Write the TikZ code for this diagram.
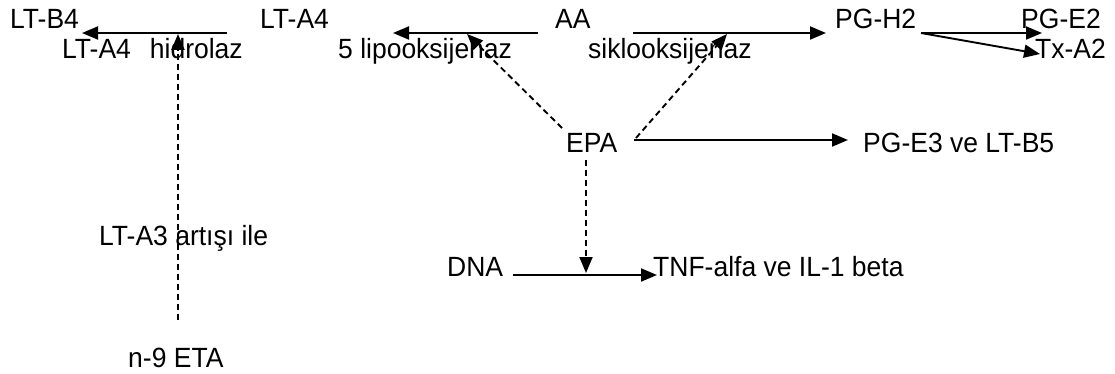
\documentclass[tikz,border=0pt]{standalone}
\usepackage{fontspec}
\setmainfont{Liberation Sans}
\usetikzlibrary{arrows.meta}
\newcommand{\tall}[1]{\scalebox{1}[1.05]{#1}}
\begin{document}
\begin{tikzpicture}[x=1pt,y=-1pt,
  lbl/.style={anchor=base west,inner sep=0pt,font=\fontsize{26.5}{30}\selectfont},
  arr/.style={line width=1.9pt,-{Triangle[length=16pt,width=13pt]}},
  darr/.style={arr,dash pattern=on 6pt off 4pt}]
\useasboundingbox (0,0) rectangle (1115,374);
% labels
\node[lbl] (ltb4) at (10,29) {\tall{LT-B4}};
\node[lbl] (lta4) at (260,29) {\tall{LT-A4}};
\node[lbl] (aa)   at (555,29) {\tall{AA}};
\node[lbl] (pgh2) at (835,29) {\tall{PG-H2}};
\node[lbl] (pge2) at (1021,29) {\tall{PG-E2}};
\node[lbl] (txa2) at (1035,59) {\tall{Tx-A2}};
\node[lbl] (hyd)  at (62,59) {\tall{LT-A4\hspace{19pt}hidrolaz}};
\node[lbl] (lox)  at (338,59) {\tall{5 lipooksijenaz}};
\node[lbl] (cox)  at (588,59) {\tall{siklooksijenaz}};
\node[lbl] (epa)  at (566,153) {\tall{EPA}};
\node[lbl] (pge3) at (863,153) {\tall{PG-E3 ve LT-B5}};
\node[lbl] (lta3) at (99,245) {\tall{LT-A3 artışı ile}};
\node[lbl] (dna)  at (447,276) {\tall{DNA}};
\node[lbl] (tnf)  at (653,276) {\tall{TNF-alfa ve IL-1 beta}};
\node[lbl] (eta)  at (128,367) {\tall{n-9 ETA}};
% connector end points
\coordinate (ltb4in) at (82,33);
\coordinate (lta4out) at (227,33);
\coordinate (hydin) at (178,34);
\coordinate (etaout) at (178,320);
\coordinate (aal) at (538,33);
\coordinate (aalin) at (393,33);
\coordinate (aar) at (633,33);
\coordinate (pgh2in) at (826,33);
\coordinate (pgh2out) at (921,33);
\coordinate (pge2in) at (1042,33);
\coordinate (txa2in) at (1040,54);
\coordinate (loxin) at (467,34);
\coordinate (coxin) at (727,34);
\coordinate (epaul) at (562,128);
\coordinate (epaur) at (636,138);
\coordinate (epar) at (634,140);
\coordinate (pge3in) at (848,140);
\coordinate (epad) at (586,160);
\coordinate (dnaj) at (586,273);
\coordinate (dnaout) at (513,275);
\coordinate (tnfin) at (657,275);
% reactions
\draw[arr] (lta4out) -- (ltb4in);
\draw[darr] (etaout) -- (hydin);
\draw[arr] (aal) -- (aalin);
\draw[arr] (aar) -- (pgh2in);
\draw[arr] (pgh2out) -- (pge2in);
\draw[arr] (pgh2out) -- (txa2in);
\draw[darr] (epaul) -- (loxin);
\draw[darr] (epaur) -- (coxin);
\draw[arr] (epar) -- (pge3in);
\draw[darr] (epad) -- (dnaj);
\draw[arr] (dnaout) -- (tnfin);
\end{tikzpicture}
\end{document}
